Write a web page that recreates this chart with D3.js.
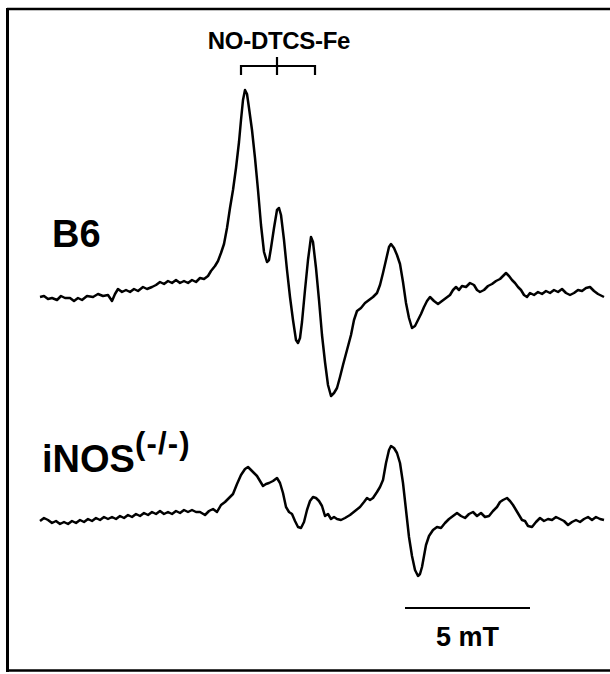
<!DOCTYPE html>
<meta charset="utf-8">
<style>
body { margin: 0; background: #fff; }
svg { display: block; }
.trace { fill: none; stroke: #000; stroke-width: 2.5px; stroke-linejoin: round; }
.lbl { font-family: "Liberation Sans", Arial, Helvetica, sans-serif; font-weight: bold; fill: #000; }
</style>
<svg width="610" height="674"></svg>
<script src="https://cdn.jsdelivr.net/npm/d3@7/dist/d3.min.js"></script>
<script>

// magnetic field offset (mT) and signal (a.u.)
var b6Field = [0,0.16,0.32,0.48,0.68,0.84,1.0,1.2,1.36,1.52,1.68,1.88,2.12,2.32,2.52,2.72,2.88,3.0,3.12,3.28,3.44,3.6,3.76,3.92,4.12,4.28,4.48,4.64,4.8,4.96,5.12,5.28,5.44,5.6,5.76,5.92,6.08,6.24,6.4,6.56,6.72,6.84,7.0,7.12,7.24,7.36,7.48,7.6,7.72,7.84,7.96,8.04,8.12,8.2,8.28,8.36,8.48,8.6,8.72,8.84,8.96,9.08,9.16,9.24,9.36,9.48,9.56,9.64,9.76,9.88,10.0,10.12,10.24,10.32,10.4,10.48,10.6,10.72,10.84,10.92,11.04,11.16,11.28,11.4,11.52,11.64,11.76,11.88,12.0,12.12,12.28,12.44,12.56,12.68,12.84,13.0,13.16,13.32,13.48,13.6,13.72,13.84,13.96,14.04,14.16,14.28,14.4,14.52,14.64,14.76,14.88,15.0,15.12,15.24,15.36,15.48,15.6,15.76,15.92,16.08,16.24,16.4,16.52,16.64,16.76,16.88,17.04,17.2,17.36,17.48,17.6,17.76,17.92,18.08,18.24,18.4,18.52,18.64,18.76,18.88,19.0,19.12,19.24,19.36,19.48,19.6,19.76,19.92,20.08,20.24,20.4,20.56,20.72,20.88,21.04,21.2,21.36,21.52,21.68,21.84,22.0,22.16,22.32,22.48,22.56];
var b6Signal = [0,1,-2,-1,-3,1,-1,-1,-4,-1,-3,1,0,3,1,2,-4,3,8,5,7,5,8,6,10,8,10,12,15,13,16,14,17,14,16,14,17,15,19,18,21,26,31,36,44,53,69,89,107,129,155,177,197,207,203,189,167,139,107,72,45,35,37,49,69,87,89,82,57,27,0,-23,-43,-46,-41,-25,7,37,60,55,29,-3,-38,-65,-88,-99,-96,-91,-80,-68,-53,-38,-23,-14,-11,-6,-3,0,4,12,24,37,50,53,49,42,33,15,-6,-21,-31,-29,-23,-17,-10,-4,0,-4,-7,-4,-1,2,7,10,7,11,10,14,12,7,5,7,11,13,16,18,21,24,21,17,14,10,7,2,0,4,2,5,3,6,4,7,5,8,4,2,4,7,6,9,10,6,3,1,0];

var koField = [0,0.16,0.32,0.48,0.64,0.8,0.96,1.12,1.28,1.44,1.6,1.76,1.92,2.08,2.24,2.4,2.56,2.72,2.88,3.04,3.2,3.36,3.52,3.68,3.84,4.0,4.16,4.32,4.48,4.64,4.8,4.96,5.12,5.28,5.44,5.6,5.76,5.92,6.08,6.24,6.4,6.6,6.76,6.92,7.08,7.24,7.4,7.56,7.72,7.88,8.04,8.2,8.32,8.44,8.56,8.68,8.8,8.92,9.04,9.16,9.32,9.48,9.6,9.72,9.84,9.96,10.08,10.2,10.32,10.44,10.56,10.68,10.8,10.92,11.04,11.16,11.28,11.4,11.52,11.64,11.76,11.88,12.04,12.2,12.4,12.6,12.8,12.96,13.08,13.2,13.32,13.48,13.6,13.72,13.84,13.96,14.04,14.16,14.28,14.4,14.52,14.64,14.76,14.88,15.0,15.12,15.2,15.28,15.36,15.44,15.56,15.72,15.88,16.04,16.2,16.36,16.52,16.68,16.84,17.0,17.16,17.32,17.48,17.64,17.8,17.96,18.12,18.28,18.4,18.52,18.68,18.8,18.92,19.04,19.16,19.28,19.4,19.52,19.68,19.84,20.0,20.16,20.32,20.48,20.64,20.8,20.96,21.12,21.28,21.44,21.6,21.76,21.92,22.08,22.24,22.4,22.56];
var koSignal = [-1,2,0,-3,-1,-4,-2,-4,-1,-3,0,-2,1,-1,2,0,3,1,3,1,4,2,5,3,6,4,7,5,8,6,9,6,8,6,9,7,10,8,10,8,8,5,9,11,8,15,18,22,26,36,45,51,53,50,47,44,39,34,36,37,39,42,37,27,13,8,6,-1,-7,-8,-2,10,19,23,22,19,14,4,6,1,3,1,0,2,5,9,13,18,22,20,22,28,33,40,57,70,74,72,67,57,37,10,-17,-36,-50,-56,-54,-47,-36,-25,-16,-10,-7,-8,-3,1,4,7,4,2,6,8,4,7,3,4,9,13,18,20,22,19,15,10,5,0,-1,-6,-7,-2,2,-1,1,0,3,1,-1,-5,-2,0,-2,1,3,0,3,1,0];

var tripletField = [8.04, 9.48, 11.0];   // NO-DTCS-Fe hyperfine lines
var scaleBarField = [14.6, 19.6];        // 5 mT
var traceNames = ["B6", "iNOS"];

var svg = d3.select("svg");

var x = d3.scaleLinear().domain([0, 22.56]).range([40, 604]);
var yB6 = d3.scaleLinear().domain([-100, 210]).range([397, 87]);
var yKO = d3.scaleLinear().domain([-60, 80]).range([580, 440]);

// frame
svg.append("line").attr("x1", 7).attr("x2", 610).attr("y1", 9).attr("y2", 9)
    .attr("stroke", "#000").attr("stroke-width", 2.5);
svg.append("line").attr("x1", 7.5).attr("x2", 7.5).attr("y1", 8).attr("y2", 672)
    .attr("stroke", "#000").attr("stroke-width", 3);
svg.append("line").attr("x1", 7).attr("x2", 610).attr("y1", 670.5).attr("y2", 670.5)
    .attr("stroke", "#000").attr("stroke-width", 2.5);

function pts(f, s) { return f.map(function(d, i) { return [d, s[i]]; }); }

svg.append("path").attr("class", "trace")
    .attr("d", d3.line().x(function(d) { return x(d[0]); }).y(function(d) { return yB6(d[1]); })(pts(b6Field, b6Signal)));
svg.append("path").attr("class", "trace")
    .attr("d", d3.line().x(function(d) { return x(d[0]); }).y(function(d) { return yKO(d[1]); })(pts(koField, koSignal)));

// triplet marker
var bracketY = 66;
var br = svg.append("g").attr("stroke", "#000").attr("stroke-width", 2.2);
br.append("line").attr("x1", x(tripletField[0])).attr("x2", x(tripletField[2]))
    .attr("y1", bracketY).attr("y2", bracketY);
tripletField.forEach(function(f, i) {
  br.append("line").attr("x1", x(f)).attr("x2", x(f))
      .attr("y1", i === 1 ? bracketY - 9 : bracketY - 1).attr("y2", bracketY + 9);
});
svg.append("text").attr("class", "lbl").attr("x", x(tripletField[1]) + 2).attr("y", 49)
    .attr("text-anchor", "middle").style("font-size", "24px").style("letter-spacing", "-0.3px")
    .text("NO-DTCS-Fe");

// trace labels
svg.append("text").attr("class", "lbl").attr("x", 52).attr("y", 247)
    .style("font-size", "38px").text(traceNames[0]);
var ko = svg.append("text").attr("class", "lbl").attr("x", 42).attr("y", 472)
    .style("font-size", "38px");
ko.append("tspan").text(traceNames[1]);
ko.append("tspan").attr("dy", -18).style("font-size", "31px").style("letter-spacing", "1.2px").text("(-/-)");

// scale bar
var barLen = scaleBarField[1] - scaleBarField[0];
svg.append("line").attr("x1", x(scaleBarField[0])).attr("x2", x(scaleBarField[1]))
    .attr("y1", 608).attr("y2", 608).attr("stroke", "#000").attr("stroke-width", 2.2);
svg.append("text").attr("class", "lbl").attr("x", (x(scaleBarField[0]) + x(scaleBarField[1])) / 2)
    .attr("y", 646).attr("text-anchor", "middle").style("font-size", "27px")
    .text(d3.format(".0f")(barLen) + " mT");

</script>
